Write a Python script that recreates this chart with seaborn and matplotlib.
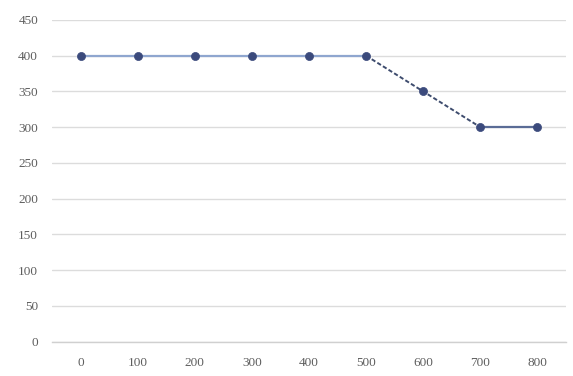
import numpy as np
import pandas as pd
import matplotlib
matplotlib.use("Agg")
import matplotlib.pyplot as plt
import seaborn as sns

# Category labels along the x axis and the plotted values
categories = ["0", "100", "200", "300", "400", "500", "600", "700", "800"]
values = [400, 400, 400, 400, 400, 400, 350, 300, 300]
y_ticks = [0, 50, 100, 150, 200, 250, 300, 350, 400, 450]

df = pd.DataFrame({"pos": np.arange(len(categories)), "value": values})

sns.set_theme(style="white")
plt.rcParams["font.family"] = ["Liberation Serif", "DejaVu Serif"]

fig = plt.figure(figsize=(5.73, 3.76), dpi=100)
ax = fig.add_axes([52 / 573, 1 - 341.5 / 376, (566 - 52) / 573, (341.5 - 20) / 376])

# Flat run, falling section (dashed) and final flat run
flat1 = df.iloc[0:6]
fall = df.iloc[5:8]
flat2 = df.iloc[7:9]
sns.lineplot(data=flat1, x="pos", y="value", ax=ax, color="#8fa6cf", linewidth=1.6, zorder=3)
sns.lineplot(data=fall, x="pos", y="value", ax=ax, color="#3e4c6e", linewidth=1.4,
             linestyle=(0, (2.2, 1.2)), zorder=3)
sns.lineplot(data=flat2, x="pos", y="value", ax=ax, color="#5a6c96", linewidth=1.6, zorder=3)
sns.scatterplot(data=df, x="pos", y="value", ax=ax, color="#3b4a7c", s=34,
                marker="o", edgecolor="#3b4a7c", linewidth=0.5, zorder=4)

ax.set_xlim(-0.5, len(categories) - 0.5)
ax.set_ylim(0, 450)
ax.set_xticks(np.arange(len(categories)))
ax.set_xticklabels(categories)
ax.set_yticks(y_ticks)
ax.set_yticklabels([str(t) for t in y_ticks])
ax.set_xlabel("")
ax.set_ylabel("")

ax.grid(axis="y", color="#dcdcdc", linewidth=1.0)
ax.grid(axis="x", visible=False)
for side in ["top", "right", "left"]:
    ax.spines[side].set_visible(False)
ax.spines["bottom"].set_color("#d0d0d0")
ax.spines["bottom"].set_linewidth(1.0)
ax.tick_params(axis="both", length=0, labelsize=9.5, labelcolor="#5e5e5e")
ax.tick_params(axis="y", pad=10)
ax.tick_params(axis="x", pad=11)

fig.savefig("out.png", dpi=100, facecolor="white")
